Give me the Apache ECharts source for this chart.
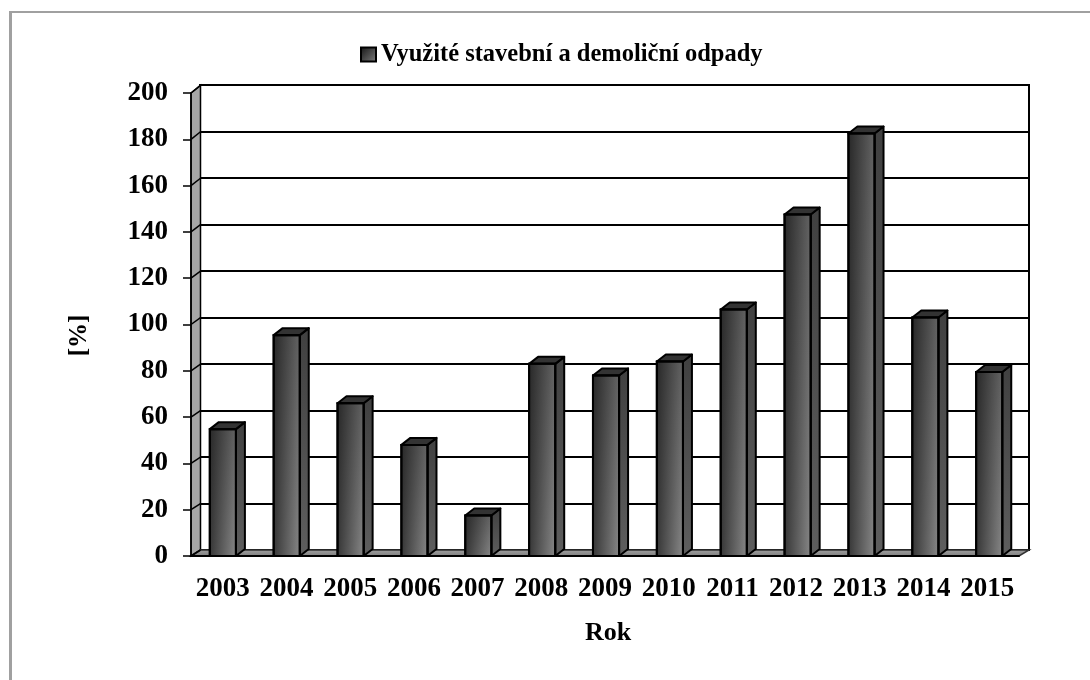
<!DOCTYPE html>
<html>
<head>
<meta charset="utf-8">
<style>html,body{margin:0;padding:0;background:#fff}#c{width:1090px;height:680px}</style>
<script src="https://cdn.jsdelivr.net/npm/echarts@6/dist/echarts.min.js"></script>
</head>
<body>
<div id="c"></div>
<script>
const years = ['2003','2004','2005','2006','2007','2008','2009','2010','2011','2012','2013','2014','2015'];
const seriesName = 'Využité stavební a demoliční odpady';
const values = [54.8,95.4,66,48,17.5,83,78,84,106.5,147.5,182.5,103,79.5];
const yTicks = [0,20,40,60,80,100,120,140,160,180,200];
const FONT = '"Liberation Serif"';
const DX = 9, DY = 7, WALL_DX = 9.5, BAR_DRIFT = 0.17;
const line = '#000';

const chart = echarts.init(document.getElementById('c'), null, {renderer:'canvas'});

function backDy(v){ return 6 + 1.7 * v / 200; }

function renderWall(params, api){
  const c = params.coordSys;
  const b = c.y + c.height;
  const r = c.x + c.width;
  return {type:'group', children:[
    {type:'polygon', shape:{points:[[c.x,c.y],[c.x+WALL_DX,c.y-7.7],[c.x+WALL_DX,b-6],[c.x,b]]},
      style:{fill:'#a6a6a6',stroke:line,lineWidth:1.5}},
    {type:'polygon', shape:{points:[[c.x,b],[c.x+WALL_DX,b-6],[r+10,b-6],[r,b]]},
      style:{fill:new echarts.graphic.LinearGradient(0,0,0,1,[{offset:0,color:'#a0a0a0'},{offset:1,color:'#7e7e7e'}]),stroke:'#333',lineWidth:1.5}}
  ]};
}
function renderConnector(params, api){
  const p = api.coord([0, api.value(1)]);
  const x = params.coordSys.x;
  return {type:'line', shape:{x1:x,y1:p[1],x2:x+WALL_DX,y2:p[1]-backDy(api.value(1))},
    style:{stroke:line,lineWidth:1.5,fill:null}};
}
function renderBar(params, api){
  const top = api.coord([api.value(0), api.value(1)]);
  const base = api.coord([api.value(0), 0]);
  const band = api.size([1,0])[0];
  const w = band * 0.41;
  const cx = top[0] + api.value(0) * BAR_DRIFT;
  const l = cx - w/2, r = cx + w/2, t = top[1], b = base[1];
  const H = (c1,c2)=>new echarts.graphic.LinearGradient(0,0,1,0,[{offset:0,color:c1},{offset:1,color:c2}]);
  const V = (c1,c2)=>new echarts.graphic.LinearGradient(0,0,0,1,[{offset:0,color:c1},{offset:1,color:c2}]);
  return {type:'group', children:[
    {type:'polygon', shape:{points:[[r,t],[r+DX,t-DY],[r+DX,b-DY],[r,b]]},
      style:{fill:V('#404040','#5e5e5e'),stroke:line,lineWidth:2,lineJoin:'round'}},
    {type:'polygon', shape:{points:[[l,t],[l+DX,t-DY],[r+DX,t-DY],[r,t]]},
      style:{fill:'#333',stroke:line,lineWidth:2,lineJoin:'round'}},
    {type:'rect', shape:{x:l,y:t,width:w,height:b-t},
      style:{fill:V('#646464','#8a8a8a'),stroke:line,lineWidth:2}},
    {type:'rect', shape:{x:l,y:t,width:w,height:b-t},
      style:{fill:H('rgba(0,0,0,0.62)','rgba(0,0,0,0)'),stroke:line,lineWidth:2}}
  ]};
}

chart.setOption({
  animation:false,
  backgroundColor:'#fff',
  graphic:[
    {type:'rect',silent:true,shape:{x:9,y:11,width:1081,height:2},style:{fill:'#a0a0a0'}},
    {type:'rect',silent:true,shape:{x:9,y:11,width:3,height:669},style:{fill:'#a0a0a0'}}
  ],
  legend:{
    left:355, top:37, itemWidth:15, itemHeight:14, itemGap:2,
    data:[{name:seriesName,icon:'rect'}],
    textStyle:{fontFamily:FONT,fontWeight:'bold',fontSize:24.5,color:'#000'}
  },
  grid:[
    {left:191,top:93,width:828,height:463,containLabel:false},
    {left:200,top:85,width:829,height:465,show:true,borderColor:'#000',borderWidth:2,backgroundColor:'#fff',z:-1}
  ],
  xAxis:[
    {type:'category',gridIndex:0,data:years,z:10,
     name:'Rok',nameLocation:'middle',nameGap:64,
     nameTextStyle:{fontFamily:FONT,fontWeight:'bold',fontSize:26,color:'#000',padding:[0,0,0,6]},
     axisLine:{lineStyle:{color:'#000',width:2}},
     axisTick:{length:8,alignWithLabel:false,interval:0,lineStyle:{color:'#000',width:1.5}},
     axisLabel:{margin:20,interval:0,fontFamily:FONT,fontWeight:'bold',fontSize:27,color:'#000'}},
    {type:'category',gridIndex:1,data:years,show:false}
  ],
  yAxis:[
    {type:'value',gridIndex:0,min:0,max:200,interval:20,z:10,
     name:'[%]',nameLocation:'middle',nameGap:99,nameRotate:90,
     nameTextStyle:{fontFamily:FONT,fontWeight:'bold',fontSize:25,color:'#000',padding:[0,0,0,-22]},
     axisLine:{show:true,lineStyle:{color:'#000',width:1.5}},
     axisTick:{show:true,length:8,lineStyle:{color:'#000',width:1.5}},
     splitLine:{show:false},
     axisLabel:{margin:23,fontFamily:FONT,fontWeight:'bold',fontSize:27,color:'#000',
       formatter:v=>String(v)}},
    {type:'value',gridIndex:1,min:0,max:200,interval:20,
     axisLine:{show:false},axisTick:{show:false},axisLabel:{show:false},
     splitLine:{show:true,lineStyle:{color:'#000',width:2}}}
  ],
  series:[
    {type:'custom',name:'wall',coordinateSystem:'cartesian2d',xAxisIndex:0,yAxisIndex:0,
     renderItem:renderWall,data:[[0,0]],silent:true,z:1},
    {type:'custom',name:'connectors',coordinateSystem:'cartesian2d',xAxisIndex:0,yAxisIndex:0,
     renderItem:renderConnector,data:yTicks.map(v=>[0,v]),silent:true,z:2},
    {type:'custom',name:seriesName,coordinateSystem:'cartesian2d',xAxisIndex:0,yAxisIndex:0,
     renderItem:renderBar,encode:{x:0,y:1},
     data:values.map((v,i)=>[i,v]),z:3,
     itemStyle:{color:new echarts.graphic.LinearGradient(0,0,1,1,[{offset:0,color:'#111'},{offset:1,color:'#808080'}]),borderColor:'#000',borderWidth:2}}
  ]
});
</script>
</body>
</html>
